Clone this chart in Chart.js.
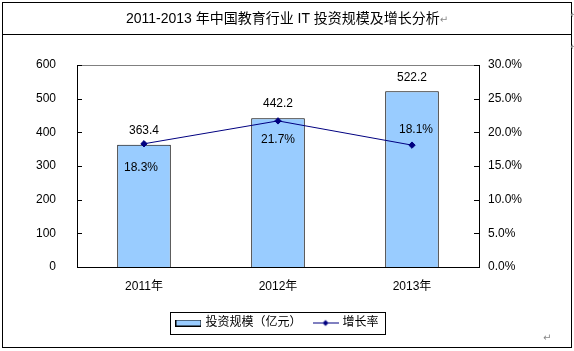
<!DOCTYPE html>
<html>
<head>
<meta charset="utf-8">
<script src="https://cdn.jsdelivr.net/npm/chart.js@4"></script>
<style>
  body { margin: 0; background: #fff; }
  #wrap { position: relative; width: 574px; height: 351px; overflow: hidden; }
  #chart { position: absolute; left: 0; top: 0; }
  #frame { position: absolute; left: 2px; top: 2px; width: 568px; height: 344px; border: 1px solid #000; pointer-events: none; }
  #titleLine { position: absolute; left: 2px; top: 34px; width: 569px; height: 1px; background: #000; }
  #title { position: absolute; left: 3px; top: 3px; width: 568px; height: 31px; line-height: 31px; text-align: center;
           font-family: "Liberation Sans", Arial, "Noto Sans CJK SC", sans-serif; font-size: 14px; color: #000; }
  .mark { color: #888; font-family: "DejaVu Sans", sans-serif; font-size: 10px; }
  .pmark { position: absolute; color: #888; font-family: "DejaVu Sans", sans-serif; font-size: 10px; }
</style>
</head>
<body>
<div id="wrap">
  <canvas id="chart" width="574" height="351"></canvas>
  <div id="frame"></div>
  <div id="titleLine"></div>
  <div id="title">2011-2013 年中国教育行业 IT 投资规模及增长分析<span class="mark">↵</span></div>
  <div class="pmark" style="left:570px; top:9px;">↵</div>
  <div class="pmark" style="left:570px; top:41px;">↵</div>
  <div class="pmark" style="left:543px; top:332px;">↵</div>
</div>
<script>
// data
const years = ['2011年', '2012年', '2013年']
const investment = [363.4, 442.2, 522.2]
const growthRate = [18.3, 21.7, 18.1]
const investLabel = '投资规模（亿元）'
const rateLabel = '增长率'

// label offsets for the growth rate text (dx, dy from point)
const rateLabelOffsets = [[-3, 24], [0, 19], [4, -15]]

const FONT = '"Liberation Sans", Arial, "Noto Sans CJK SC", sans-serif'
const BAR_COLOR = '#99CCFF'
const LINE_COLOR = '#000080'

// small swatches for the legend
function barSwatch() {
    const c = document.createElement('canvas')
    c.width = 26; c.height = 7
    const g = c.getContext('2d')
    g.fillStyle = BAR_COLOR
    g.fillRect(0, 0, 26, 7)
    g.strokeStyle = '#000'
    g.lineWidth = 1
    g.strokeRect(0.5, 0.5, 25, 6)
    return c
}
function lineSwatch() {
    const c = document.createElement('canvas')
    c.width = 26; c.height = 9
    const g = c.getContext('2d')
    g.strokeStyle = LINE_COLOR
    g.lineWidth = 1
    g.beginPath(); g.moveTo(0, 4.5); g.lineTo(26, 4.5); g.stroke()
    g.fillStyle = LINE_COLOR
    g.beginPath(); g.moveTo(13, 1.5); g.lineTo(16, 4.5); g.lineTo(13, 7.5); g.lineTo(10, 4.5); g.closePath(); g.fill()
    return c
}

const extrasPlugin = {
    id: 'extras',
    afterDraw(chart) {
        const ctx = chart.ctx
        const area = chart.chartArea
        ctx.save()
        // gray top edge of plot area
        ctx.strokeStyle = '#808080'
        ctx.lineWidth = 1
        ctx.beginPath()
        ctx.moveTo(area.left, Math.round(area.top) + 0.5)
        ctx.lineTo(area.right, Math.round(area.top) + 0.5)
        ctx.stroke()
        // inward tick marks
        ctx.strokeStyle = '#000'
        const yl = chart.scales.y, yr = chart.scales.y1
        yl.ticks.forEach(t => {
            const py = Math.round(yl.getPixelForValue(t.value)) + 0.5
            ctx.beginPath(); ctx.moveTo(area.left, py); ctx.lineTo(area.left + 5, py); ctx.stroke()
        })
        yr.ticks.forEach(t => {
            const py = Math.round(yr.getPixelForValue(t.value)) + 0.5
            ctx.beginPath(); ctx.moveTo(area.right, py); ctx.lineTo(area.right - 5, py); ctx.stroke()
        })
        // data labels
        ctx.fillStyle = '#000'
        ctx.font = '12px ' + FONT
        ctx.textAlign = 'center'
        ctx.textBaseline = 'middle'
        chart.getDatasetMeta(0).data.forEach((el, i) => {
            ctx.fillText(investment[i].toFixed(1), el.x, el.y - 14)
        })
        chart.getDatasetMeta(1).data.forEach((el, i) => {
            const [dx, dy] = rateLabelOffsets[i]
            ctx.fillText(growthRate[i].toFixed(1) + '%', el.x + dx, el.y + dy)
        })
        // legend border
        const boxes = chart.legend.legendHitBoxes
        if (boxes && boxes.length) {
            const l = Math.min(...boxes.map(b => b.left)) - 7
            const r = Math.max(...boxes.map(b => b.left + b.width)) + 7
            const t = boxes[0].top - 5
            const b = boxes[0].top + boxes[0].height + 5
            ctx.strokeStyle = '#000'
            ctx.strokeRect(Math.round(l) + 0.5, Math.round(t) + 0.5, Math.round(r - l), Math.round(b - t))
        }
        ctx.restore()
    }
}

new Chart(document.getElementById('chart'), {
    data: {
        labels: years,
        datasets: [{
            type: 'bar',
            label: investLabel,
            data: investment,
            backgroundColor: BAR_COLOR,
            borderColor: '#000',
            borderWidth: 1,
            barPercentage: 0.4,
            categoryPercentage: 1,
            yAxisID: 'y',
            order: 2
        },
        {
            type: 'line',
            label: rateLabel,
            data: growthRate,
            borderColor: LINE_COLOR,
            backgroundColor: LINE_COLOR,
            borderWidth: 1,
            pointStyle: 'rectRot',
            pointRadius: 3.2,
            yAxisID: 'y1',
            order: 1
        }]
    },
    options: {
        responsive: false,
        animation: false,
        layout: { padding: { left: 0, right: 18, top: 65, bottom: 12 } },
        plugins: {
            title: { display: false },
            tooltip: { enabled: false },
            legend: {
                position: 'bottom',
                labels: {
                    color: '#000',
                    font: { family: FONT, size: 12 },
                    usePointStyle: true,
                    pointStyleWidth: 22,
                    boxHeight: 9,
                    padding: 13,
                    generateLabels: () => [
                        { text: investLabel, pointStyle: barSwatch(), datasetIndex: 0, lineWidth: 0, fillStyle: BAR_COLOR, strokeStyle: '#000' },
                        { text: rateLabel, pointStyle: lineSwatch(), datasetIndex: 1, lineWidth: 0, fillStyle: LINE_COLOR, strokeStyle: LINE_COLOR }
                    ]
                }
            }
        },
        scales: {
            x: {
                grid: { display: false, drawTicks: false },
                border: { color: '#000' },
                ticks: { color: '#000', font: { family: FONT, size: 12 }, padding: 12 },
                afterFit: s => { s.height = 37 }
            },
            y: {
                position: 'left',
                min: 0, max: 600,
                grid: { display: false, drawTicks: false },
                border: { color: '#000' },
                ticks: { stepSize: 100, color: '#000', font: { family: FONT, size: 12 }, padding: 21 },
                afterFit: s => { s.width = 77 }
            },
            y1: {
                position: 'right',
                min: 0, max: 30,
                grid: { display: false, drawTicks: false },
                border: { color: '#000' },
                ticks: { stepSize: 5, color: '#000', font: { family: FONT, size: 12 }, padding: 9,
                         callback: v => v.toFixed(1) + '%' },
                afterFit: s => { s.width = 77 }
            }
        }
    },
    plugins: [extrasPlugin]
})
</script>
</body>
</html>
